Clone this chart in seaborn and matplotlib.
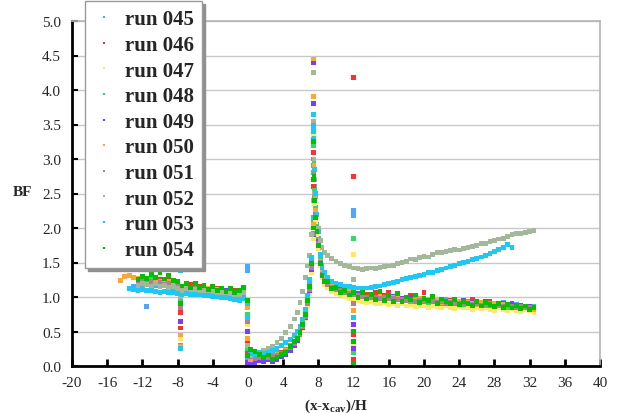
import numpy as np
import pandas as pd
import matplotlib
matplotlib.use("Agg")
import matplotlib.pyplot as plt
import seaborn as sns

nan = np.nan

RUNS = ["run 045", "run 046", "run 047", "run 048", "run 049",
        "run 050", "run 051", "run 052", "run 053", "run 054"]
COLORS = ["#4da6ff", "#ff3030", "#ffe866", "#33d966", "#7a3cff",
          "#ffa533", "#b07f93", "#a3b899", "#1ec8f5", "#00c000"]

X_UP = [-14.5, -14.0, -13.5, -13.0, -12.5, -12.0, -11.5, -11.0, -10.5, -10.0,
        -9.5, -9.0, -8.5, -8.0, -7.5, -7.0, -6.5, -6.0, -5.5, -5.0,
        -4.5, -4.0, -3.5, -3.0, -2.5, -2.0, -1.5, -1.0, -0.5]
X_CAV = [0.3, 0.8, 1.3, 1.8, 2.3, 2.8, 3.3, 3.8, 4.3, 4.8,
         5.3, 5.6, 5.9, 6.2, 6.5, 6.8, 7.0, 7.2, 7.4]
X_DN = [7.5, 7.6, 7.7, 7.85, 8.0, 8.2, 8.4, 8.7, 9.0, 9.5,
        10.0, 10.5, 11.0, 11.5, 12.0, 12.5, 13.0, 13.5, 14.0, 14.5,
        15.0, 15.5, 16.0, 16.5, 17.0, 17.5, 18.0, 18.5, 19.0, 19.5,
        20.0, 20.5, 21.0, 21.5, 22.0, 22.5, 23.0, 23.5, 24.0, 24.5,
        25.0, 25.5, 26.0, 26.5, 27.0, 27.5, 28.0, 28.5, 29.0, 29.5,
        30.0, 30.5, 31.0, 31.5, 32.0, 32.5]
SPIKE_X = [-7.7, -0.1, 7.4, 11.95]

Y_045 = [nan, nan, nan, 1.15, 1.17, 1.18, 0.86, 1.19, 1.17, 1.16, 1.18, 1.15, 1.13, 1.12, 1.08, 1.10, 1.09, 1.10, 1.07, 1.08, 1.06, 1.07, 1.04, 1.05, 1.03, 1.02, 1.03, 1.01, 1.04,
         0.12, 0.10, 0.14, 0.11, 0.15, 0.13, 0.18, 0.20, 0.24, 0.30, 0.36, 0.42, 0.52, 0.62, 0.78, 0.98, 1.20, 1.55, 2.10,
         3.0, 2.6, 2.3, 2.05, 1.85, 1.58, 1.40, 1.30, 1.24, 1.18, 1.15, 1.12, 1.10, 1.08, 1.06, 1.04, 1.05, 1.02, 1.03, 1.01,
         1.04, 1.00, 1.02, 0.99, 1.01, 0.98, 1.00, 0.97, 0.99, 0.96, 0.98, 0.96, 0.97, 0.95, 0.94, 0.96, 0.93, 0.95, 0.92, 0.94,
         0.93, 0.91, 0.92, 0.90, 0.93, 0.91, 0.89, 0.90, 0.92, 0.88, 0.87, 0.89, 0.86, 0.84, 0.87, nan]
Y_046 = [nan, nan, nan, nan, 1.20, 1.27, 1.22, 1.28, 1.21, 1.25, 1.19, 1.24, 1.20, 1.18, 1.16, 1.13, 1.18, 1.12, 1.15, 1.11, 1.13, 1.09, 1.12, 1.07, 1.10, 1.06, 1.09, 1.05, 1.12,
         0.14, 0.16, 0.11, 0.14, 0.12, 0.16, 0.15, 0.19, 0.20, 0.27, 0.31, 0.40, 0.45, 0.58, 0.70, 0.90, 1.10, 1.40, 1.90,
         2.8, 2.45, 2.2, 1.95, 1.78, 1.50, 1.33, 1.24, 1.20, 1.16, 1.10, 1.12, 1.06, 1.09, 1.02, 1.05, 1.00, 1.04, 1.01, 1.06,
         0.99, 1.03, 1.07, 0.98, 1.02, 0.97, 1.00, 1.03, 0.96, 0.98, 1.06, 0.95, 0.97, 0.94, 0.96, 0.92, 0.95, 0.94, 0.91, 0.93,
         0.92, 0.96, 0.90, 0.91, 0.89, 0.94, 0.90, 0.88, 0.87, 0.89, 0.90, 0.86, 0.88, 0.85, 0.87, 0.84]
Y_047 = [nan, nan, nan, nan, 1.18, 1.21, 1.23, 1.19, 1.20, 1.17, 1.21, 1.16, 1.18, 1.14, 1.12, 1.13, 1.10, 1.12, 1.09, 1.10, 1.07, 1.09, 1.05, 1.07, 1.04, 1.05, 1.03, 1.04, 1.06,
         0.17, 0.12, 0.15, 0.10, 0.14, 0.12, 0.15, 0.16, 0.19, 0.24, 0.30, 0.36, 0.44, 0.54, 0.68, 0.86, 1.05, 1.35, 1.85,
         2.7, 2.35, 2.1, 1.9, 1.70, 1.45, 1.28, 1.18, 1.13, 1.08, 1.05, 1.03, 1.00, 0.98, 0.96, 0.95, 0.93, 0.92, 0.94, 0.91,
         0.90, 0.92, 0.89, 0.91, 0.88, 0.90, 0.87, 0.89, 0.86, 0.88, 0.87, 0.85, 0.88, 0.86, 0.84, 0.87, 0.85, 0.83, 0.86, 0.84,
         0.85, 0.82, 0.84, 0.83, 0.85, 0.82, 0.81, 0.84, 0.82, 0.80, 0.83, 0.81, 0.79, 0.82, 0.80, 0.78]
Y_048 = [nan, nan, nan, nan, 1.22, 1.25, 1.21, 1.26, 1.23, 1.20, 1.24, 1.19, 1.21, 1.17, 1.14, 1.16, 1.13, 1.15, 1.12, 1.14, 1.10, 1.12, 1.08, 1.10, 1.06, 1.09, 1.05, 1.08, 1.10,
         0.20, 0.18, 0.15, 0.13, 0.11, 0.15, 0.14, 0.17, 0.22, 0.25, 0.34, 0.38, 0.48, 0.56, 0.74, 0.93, 1.14, 1.45, 2.00,
         2.95, 2.55, 2.28, 2.02, 1.82, 1.55, 1.36, 1.26, 1.21, 1.14, 1.13, 1.08, 1.09, 1.05, 1.05, 1.01, 1.03, 0.99, 1.01, 0.98,
         1.00, 0.97, 1.00, 0.96, 0.98, 0.95, 0.97, 0.94, 0.96, 0.93, 0.95, 0.92, 0.94, 0.93, 0.91, 0.93, 0.90, 0.92, 0.91, 0.89,
         0.92, 0.88, 0.90, 0.89, 0.87, 0.90, 0.86, 0.88, 0.87, 0.85, 0.88, 0.84, 0.86, 0.85, 0.83, 0.86]
Y_049 = [nan, nan, nan, nan, 1.21, 1.19, 1.26, 1.22, 1.25, 1.20, 1.23, 1.22, 1.18, 1.19, 1.13, 1.17, 1.12, 1.15, 1.11, 1.13, 1.12, 1.08, 1.10, 1.07, 1.09, 1.05, 1.07, 1.06, 1.09,
         0.05, 0.04, 0.08, 0.06, 0.09, 0.07, 0.10, 0.13, 0.17, 0.23, 0.30, 0.37, 0.45, 0.55, 0.70, 0.90, 1.10, 1.40, 1.90,
         2.85, 2.5, 2.22, 1.98, 1.80, 1.50, 1.34, 1.23, 1.19, 1.15, 1.11, 1.09, 1.07, 1.05, 1.03, 1.04, 1.01, 1.00, 1.02, 0.99,
         1.03, 0.97, 0.99, 1.01, 0.96, 0.98, 0.95, 0.99, 0.94, 0.97, 0.93, 0.96, 0.94, 0.92, 0.95, 0.93, 0.91, 0.94, 0.92, 0.95,
         0.90, 0.92, 0.89, 0.91, 0.93, 0.88, 0.91, 0.89, 0.90, 0.87, 0.89, 0.86, 0.88, 0.85, 0.87, nan]
Y_050 = [1.24, 1.30, 1.31, 1.28, 1.27, 1.24, 1.26, 1.21, 1.24, 1.22, 1.19, 1.23, 1.18, 1.17, 1.14, 1.16, 1.11, 1.15, 1.12, 1.10, 1.13, 1.09, 1.11, 1.06, 1.08, 1.07, 1.05, 1.07, 1.09,
         0.10, 0.14, 0.12, 0.16, 0.13, 0.11, 0.17, 0.18, 0.22, 0.26, 0.32, 0.41, 0.47, 0.58, 0.73, 0.94, 1.15, 1.45, 2.05,
         2.9, 2.5, 2.25, 2.0, 1.78, 1.52, 1.36, 1.27, 1.20, 1.16, 1.13, 1.10, 1.07, 1.08, 1.04, 1.02, 1.03, 1.00, 1.01, 0.98,
         1.02, 0.99, 0.97, 1.00, 0.98, 0.96, 0.99, 0.97, 0.95, 0.98, 0.94, 0.96, 0.93, 0.95, 0.92, 0.94, 0.93, 0.91, 0.93, 0.90,
         0.92, 0.91, 0.89, 0.92, 0.90, 0.88, 0.90, 0.87, 0.89, 0.88, 0.86, 0.87, 0.85, 0.86, 0.84, 0.82]
Y_051 = [nan, nan, nan, nan, 1.19, 1.22, 1.20, 1.23, 1.19, 1.21, 1.18, 1.20, 1.16, 1.15, 1.12, 1.14, 1.12, 1.13, 1.10, 1.11, 1.09, 1.10, 1.07, 1.08, 1.06, 1.06, 1.04, 1.05, 1.07,
         0.13, 0.11, 0.12, 0.14, 0.12, 0.14, 0.16, 0.18, 0.21, 0.27, 0.33, 0.39, 0.46, 0.57, 0.71, 0.91, 1.11, 1.42, 1.92,
         2.8, 2.45, 2.2, 1.97, 1.78, 1.50, 1.33, 1.24, 1.18, 1.14, 1.11, 1.09, 1.07, 1.05, 1.03, 1.02, 1.01, 1.00, 0.99, 1.00,
         0.98, 0.99, 0.97, 0.98, 0.96, 0.97, 0.95, 0.96, 0.94, 0.95, 0.94, 0.93, 0.94, 0.92, 0.93, 0.91, 0.92, 0.90, 0.91, 0.90,
         0.90, 0.89, 0.90, 0.88, 0.89, 0.88, 0.87, 0.88, 0.86, 0.87, 0.86, 0.85, 0.86, 0.84, 0.85, nan]
Y_052 = [nan, nan, nan, nan, 1.17, 1.19, 1.18, 1.16, 1.19, 1.15, 1.17, 1.14, 1.15, 1.12, 1.10, 1.12, 1.09, 1.11, 1.08, 1.09, 1.07, 1.08, 1.05, 1.07, 1.04, 1.05, 1.03, 1.04, 1.06,
         0.15, 0.16, 0.18, 0.22, 0.25, 0.29, 0.34, 0.40, 0.48, 0.57, 0.68, 0.78, 0.92, 1.08, 1.28, 1.45, 1.60, 1.90, 2.40,
         3.0, 2.7, 2.45, 2.2, 2.0, 1.82, 1.72, 1.65, 1.60, 1.56, 1.52, 1.49, 1.46, 1.44, 1.42, 1.41, 1.40, 1.41, 1.42, 1.41,
         1.43, 1.44, 1.45, 1.46, 1.48, 1.50, 1.52, 1.55, 1.54, 1.57, 1.59, 1.58, 1.62, 1.65, 1.64, 1.66, 1.67, 1.69, 1.68, 1.70,
         1.72, 1.73, 1.75, 1.77, 1.78, 1.80, 1.82, 1.84, 1.85, 1.88, 1.91, 1.92, 1.92, 1.94, 1.95, 1.96]
Y_053 = [nan, nan, 1.12, 1.11, 1.10, 1.11, 1.09, 1.09, 1.08, 1.07, 1.08, 1.06, 1.06, 1.05, 1.03, 1.05, 1.04, 1.04, 1.03, 1.02, 1.02, 1.01, 1.00, 0.99, 0.99, 0.97, 0.96, 0.95, 0.97,
         0.18, 0.17, 0.19, 0.18, 0.20, 0.22, 0.25, 0.30, 0.34, 0.38, 0.44, 0.50, 0.58, 0.68, 0.82, 1.02, 1.25, 1.58, 2.15,
         3.3, 2.85, 2.5, 2.2, 1.95, 1.62, 1.46, 1.36, 1.29, 1.23, 1.20, 1.18, 1.16, 1.15, 1.14, 1.13, 1.13, 1.13, 1.14, 1.15,
         1.16, 1.18, 1.20, 1.21, 1.23, 1.25, 1.27, 1.28, 1.30, 1.31, 1.33, 1.35, 1.36, 1.38, 1.40, 1.42, 1.44, 1.46, 1.48, 1.50,
         1.52, 1.54, 1.56, 1.58, 1.60, 1.63, 1.66, 1.69, 1.72, 1.76, 1.72, nan, nan, nan, nan, nan]
Y_054 = [nan, nan, nan, nan, 1.25, 1.30, 1.27, 1.33, 1.28, 1.35, 1.26, 1.31, 1.24, 1.22, 1.16, 1.20, 1.14, 1.19, 1.13, 1.17, 1.11, 1.15, 1.09, 1.13, 1.08, 1.12, 1.07, 1.10, 1.14,
         0.24, 0.21, 0.17, 0.12, 0.16, 0.10, 0.13, 0.17, 0.20, 0.28, 0.35, 0.40, 0.49, 0.60, 0.75, 0.95, 1.15, 1.48, 2.00,
         2.75, 2.4, 2.15, 1.95, 1.75, 1.48, 1.31, 1.22, 1.22, 1.12, 1.14, 1.06, 1.10, 1.03, 1.07, 0.99, 1.06, 0.97, 1.04, 0.96,
         1.08, 0.95, 1.02, 0.94, 1.05, 0.93, 1.00, 0.96, 1.03, 0.92, 0.98, 0.95, 1.01, 0.91, 0.97, 0.93, 0.90, 0.96, 0.89, 0.94,
         0.91, 0.88, 0.93, 0.87, 0.92, 0.89, 0.86, 0.91, 0.85, 0.89, 0.84, 0.88, 0.83, 0.87, 0.82, 0.85]

# scattered points in the vertical spikes at SPIKE_X, one sub-list per spike
S_045 = [[0.30, 0.92], [1.45, 1.38, 0.10], [3.50, 3.30, 2.90], [2.25, 2.18]]
S_046 = [[0.55, 0.78], [0.35, 0.20], [3.10, 2.60], [4.18, 2.75, 0.45, 0.10]]
S_047 = [[0.40], [0.60], [3.35, 2.40], [1.62, 0.30]]
S_048 = [[0.95], [0.75, 0.25], [3.20, 2.80], [1.85, 0.20]]
S_049 = [[0.65], [0.50, 0.05], [4.40, 3.80], [0.25, 0.60]]
S_050 = [[0.28, 0.45], [0.85, 0.40], [4.45, 3.90], [0.80, 0.00]]
S_051 = [[0.85], [0.65], [3.00], [0.90]]
S_052 = [[1.00], [0.30], [4.25, 3.55], [1.25]]
S_053 = [[0.25, 1.38], [0.90, 0.70], [3.65, 3.45, 3.40], [0.70]]
S_054 = [[0.90], [0.95, 0.15], [3.25, 2.70], [0.50, 0.35, 0.02]]

XTICKS = [-20, -16, -12, -8, -4, 0, 4, 8, 12, 16, 20, 24, 28, 32, 36, 40]
YTICKS = [0.0, 0.5, 1.0, 1.5, 2.0, 2.5, 3.0, 3.5, 4.0, 4.5, 5.0]

Y_ALL = [Y_045, Y_046, Y_047, Y_048, Y_049, Y_050, Y_051, Y_052, Y_053, Y_054]
S_ALL = [S_045, S_046, S_047, S_048, S_049, S_050, S_051, S_052, S_053, S_054]

X_GRID = X_UP + X_CAV + X_DN
rows = []
for run, ys, spikes in zip(RUNS, Y_ALL, S_ALL):
    for xv, yv in zip(X_GRID, ys):
        rows.append((run, xv, yv))
    for sx, sys_ in zip(SPIKE_X, spikes):
        for yv in sys_:
            rows.append((run, sx, yv))
df = pd.DataFrame(rows, columns=["run", "x", "BF"]).dropna()

sns.set_theme(style="white")
plt.rcParams["font.family"] = ["Liberation Serif", "DejaVu Serif"]
plt.rcParams["mathtext.fontset"] = "custom"
plt.rcParams["mathtext.rm"] = "Liberation Serif"
plt.rcParams["mathtext.bf"] = "Liberation Serif:bold"

fig = plt.figure(figsize=(6.21, 4.14), dpi=100)
ax = fig.add_axes([72 / 621, 1 - 367 / 414, (600 - 72) / 621, (367 - 22) / 414])

ax.set_axisbelow(True)
ax.yaxis.grid(True, color="#c8c8c8", linewidth=1.0)
ax.xaxis.grid(False)

sns.scatterplot(data=df, x="x", y="BF", hue="run", hue_order=RUNS,
                palette=dict(zip(RUNS, COLORS)), marker="s", s=12,
                linewidth=0, ax=ax, legend=True)

ax.set_xlim(-20, 40)
ax.set_ylim(0, 5)
ax.set_xticks(XTICKS)
ax.set_yticks(YTICKS)
ax.set_xticklabels([str(t) for t in XTICKS])
ax.set_yticklabels(["%.1f" % t for t in YTICKS])
ax.tick_params(axis="x", direction="in", length=5, width=2, color="black",
               labelsize=11, pad=7, bottom=True)
ax.tick_params(axis="y", direction="in", length=4, width=1.5, color="black",
               labelsize=11, pad=8, left=True)

for side in ["left", "bottom"]:
    ax.spines[side].set_color("black")
    ax.spines[side].set_linewidth(2.0)
for side in ["top", "right"]:
    ax.spines[side].set_color("#b4b4b4")
    ax.spines[side].set_linewidth(1.2)

ax.set_ylabel("BF", rotation=0, fontweight="bold", fontsize=11, ha="center", va="center")
ax.yaxis.set_label_coords((22 - 72) / 528, (367 - 193) / 345)
ax.set_xlabel(r"(x-x$_{\mathbf{cav}}$)/H", fontweight="bold", fontsize=11, va="center")
ax.xaxis.set_label_coords(0.5, (367 - 406) / 345)

handles, labels = ax.get_legend_handles_labels()
ax.get_legend().remove()
leg = fig.legend(handles, labels, loc="upper left",
                 bbox_to_anchor=(85 / 621, 1 - 2 / 414), borderaxespad=0,
                 prop={"family": "Liberation Serif", "weight": "bold", "size": 15},
                 handlelength=1.0, handletextpad=0.5, borderpad=0.4,
                 labelspacing=0.27, markerscale=0.55, frameon=True, fancybox=False,
                 shadow={"ox": 2, "oy": -2, "color": "#909090", "alpha": 1.0})
leg.get_frame().set_edgecolor("#9a9a9a")
leg.get_frame().set_linewidth(1.0)
leg.get_frame().set_facecolor("white")

fig.savefig("out.png", dpi=100)
